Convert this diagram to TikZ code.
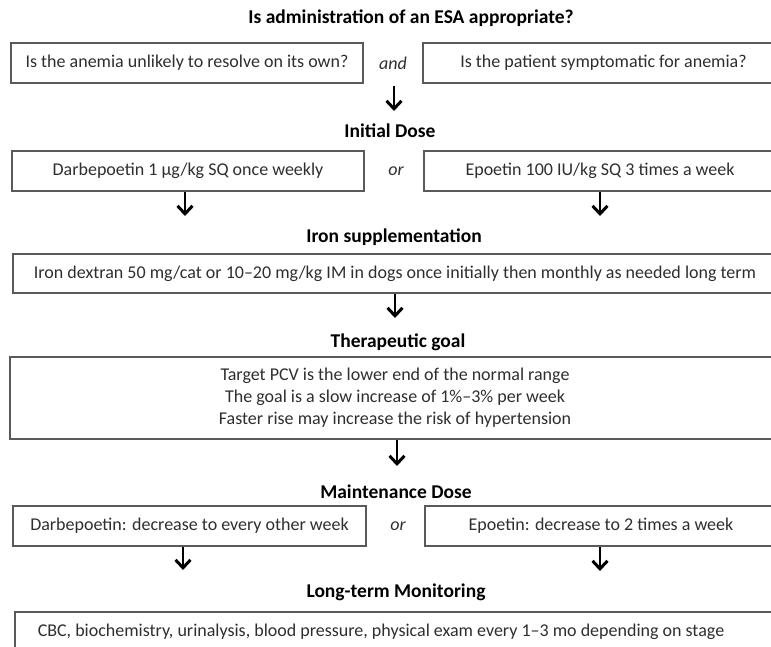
\documentclass[tikz,border=0pt]{standalone}
\usepackage{fontspec}
\setmainfont{Carlito}
\usetikzlibrary{arrows.meta,positioning}
\definecolor{boxgray}{HTML}{5A5A5A}
\definecolor{txtgray}{HTML}{2E2E2E}

\begin{document}
\begin{tikzpicture}[x=1pt, y=-1pt,
    box/.style={draw=boxgray, line width=1.6pt, minimum height=40pt, inner sep=0pt,
                text=txtgray, font=\fontsize{18}{22}\selectfont},
    head/.style={text=black, font=\fontsize{19.5}{22}\selectfont\bfseries},
    conj/.style={text=txtgray, font=\fontsize{18}{22}\selectfont\itshape},
    arr/.style={line width=2.8pt, -{Straight Barb[length=8pt,width=15pt,line width=3pt]}}]
    \useasboundingbox (0,0) rectangle (771,646);
    \clip (0,0) rectangle (771,646);
    % question
    \node[head] (esa) at (411,18) {Is administration of an ESA appropriate?};
    \node[box, minimum width=352pt] (resolve) at (187,63) {Is the anemia unlikely to resolve on its own?};
    \node[conj] (and) at (393,63) {and};
    \node[box, minimum width=361pt] (sympt) at (603.5,63) {Is the patient symptomatic for anemia?};
    \coordinate (a1s) at (394,86);
    \coordinate (a1e) at (394,111);
    \draw[arr] (a1s) -- (a1e);
    % initial dose
    \node[head] (init) at (390,131) {Initial Dose};
    \node[box, minimum width=352pt] (darb) at (188,171) {Darbepoetin 1 µg/kg SQ once weekly};
    \node[conj] (or1) at (396,171) {or};
    \node[box, minimum width=352pt] (epo) at (600,171) {Epoetin 100 IU/kg SQ 3 times a week};
    \coordinate (darbend) at (185,216);
    \coordinate (epoend) at (600,216);
    \draw[arr] (darb.south -| darbend) -- (darbend);
    \draw[arr] (epo.south) -- (epoend);
    % iron
    \node[head] (iron) at (394,237) {Iron supplementation};
    \node[box, minimum width=764pt, minimum height=39pt] (dextran) at (395,273.5) {Iron dextran 50 mg/cat or 10--20 mg/kg IM in dogs once initially then monthly as needed long term};
    \coordinate (ironend) at (395,318);
    \draw[arr] (dextran.south -| ironend) -- (ironend);
    % goal
    \node[head] (goal) at (398,342) {Therapeutic goal};
    \node[box, minimum width=770pt, minimum height=82pt, align=center] (pcv) at (395,398)
        {Target PCV is the lower end of the normal range\\
         The goal is a slow increase of 1\%--3\% per week\\
         Faster rise may increase the risk of hypertension};
    \coordinate (goalend) at (397,466);
    \draw[arr] (pcv.south -| goalend) -- (goalend);
    % maintenance
    \node[head] (maint) at (396,492) {Maintenance Dose};
    \node[box, minimum width=353pt] (darbmaint) at (189.5,526) {Darbepoetin: decrease to every other week};
    \node[conj] (or2) at (398,526) {or};
    \node[box, minimum width=352pt] (epomaint) at (601,526) {Epoetin: decrease to 2 times a week};
    \coordinate (darbmend) at (183,570);
    \coordinate (epomend) at (600,571);
    \draw[arr] (darbmaint.south -| darbmend) -- (darbmend);
    \draw[arr] (epomaint.south -| epomend) -- (epomend);
    % monitoring
    \node[head] (monit) at (396,592) {Long-term Monitoring};
    \node[box, anchor=north west, minimum width=766pt] (cbc) at (14,611)
        {\makebox[720pt][l]{CBC, biochemistry, urinalysis, blood pressure, physical exam every 1--3 mo depending on stage}};
\end{tikzpicture}
\end{document}
